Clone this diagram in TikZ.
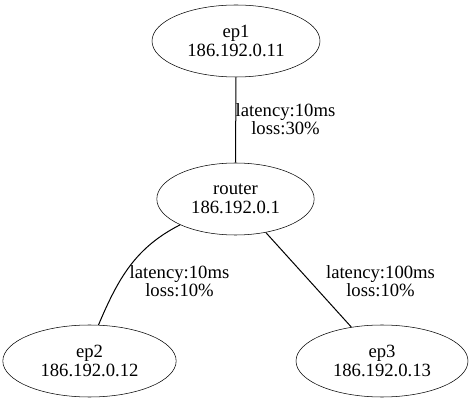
\documentclass[tikz,border=0pt]{standalone}
\usepackage{fontspec}
\setmainfont{Liberation Serif}
\usetikzlibrary{shapes.geometric}

\begin{document}
\begin{tikzpicture}[
    x=0.75pt, y=-0.75pt,
    host/.style={draw, ellipse, inner sep=0pt, minimum height=54pt, align=center,
        font=\fontsize{14pt}{14pt}\selectfont},
    edgelabel/.style={inner sep=0pt, align=center, font=\fontsize{14pt}{14pt}\selectfont},
    link/.style={draw, line width=0.75pt}
    ]
    \useasboundingbox (0,0) rectangle (471,402);

    \node[host, minimum width=126pt] (ep1) at (236,41) {ep1\\186.192.0.11};
    \node[host, minimum width=118pt] (router) at (235.5,199) {router\\186.192.0.1};
    \node[host, minimum width=130pt] (ep2) at (89.5,361) {ep2\\186.192.0.12};
    \node[host, minimum width=129pt] (ep3) at (382,361) {ep3\\186.192.0.13};

    % Links
    \draw[link] (ep1) -- (router);
    \draw[link] (router.205) to[out=207, in=67] (ep2.76);
    \draw[link] (router) -- (ep3);

    % Link labels
    \node[edgelabel] (lbl1) at (285.5,119) {latency:10ms\\loss:30\%};
    \node[edgelabel] (lbl2) at (179.5,281) {latency:10ms\\loss:10\%};
    \node[edgelabel] (lbl3) at (380.5,281) {latency:100ms\\loss:10\%};
\end{tikzpicture}
\end{document}
